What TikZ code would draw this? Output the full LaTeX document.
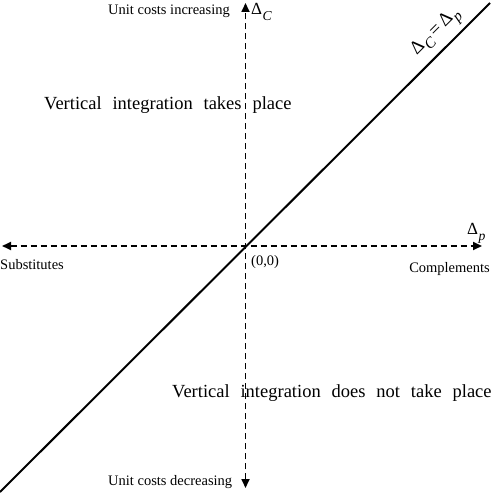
\documentclass[tikz,border=0pt]{standalone}
\usepackage{fontspec}
\setmainfont{Liberation Serif}
\newfontfamily\wideserif[WordSpace=2.35]{Liberation Serif}
\usetikzlibrary{arrows.meta}
\newcommand{\Dsub}[1]{Δ\kern0.5pt\raisebox{-0.3em}{\scalebox{0.8}{\itshape #1}}}
\begin{document}
\begin{tikzpicture}[x=1pt,y=1pt,
  axisline/.style={line width=1.7pt, dash pattern=on 6pt off 4pt,
    {Triangle[length=9pt,width=8pt]}-{Triangle[length=9pt,width=8pt]}},
  diagline/.style={line width=2pt},
  smalltext/.style={font=\fontsize{14.5}{16}\selectfont, inner sep=0pt},
  bigtext/.style={font=\wideserif\fontsize{18.5}{20}\selectfont, inner sep=0pt},
  deltatext/.style={font=\fontsize{17}{19}\selectfont, inner sep=0pt}]
\useasboundingbox (0,0) rectangle (500,493);
\coordinate (O) at (245.5,247);
\coordinate (top) at (245.5,490);
\coordinate (bot) at (245.5,5);
\coordinate (lft) at (2,247);
\coordinate (rgt) at (482,247);
\coordinate (dlo) at (0,1);
\coordinate (dhi) at (490,490);
\draw[axisline] (bot) -- (top);
\draw[axisline] (lft) -- (rgt);
\draw[diagline] (dlo) -- (dhi);
\node[smalltext, anchor=base west] (inc) at (108,478) {Unit costs increasing};
\node[deltatext, anchor=base west] (dc) at (251,478) {\Dsub{C}};
\node[smalltext, anchor=base west] (dec) at (108,8) {Unit costs decreasing};
\node[smalltext, anchor=base west] (sub) at (0,223) {Substitutes};
\node[smalltext, anchor=base east] (comp) at (490,221) {Complements};
\node[deltatext, anchor=base west] (dp) at (467,258) {\Dsub{p}};
\node[smalltext, anchor=base west] (orig) at (251,228) {(0,0)};
\node[bigtext, anchor=base west] (takes) at (44,383) {Vertical integration takes place};
\node[bigtext, anchor=base west] (nottakes) at (172,96) {Vertical integration does not take place};
\node[deltatext, font=\fontsize{19}{21}\selectfont, rotate=45] (eq) at (437,460) {\Dsub{C}\,=\,\Dsub{p}};
\end{tikzpicture}
\end{document}
